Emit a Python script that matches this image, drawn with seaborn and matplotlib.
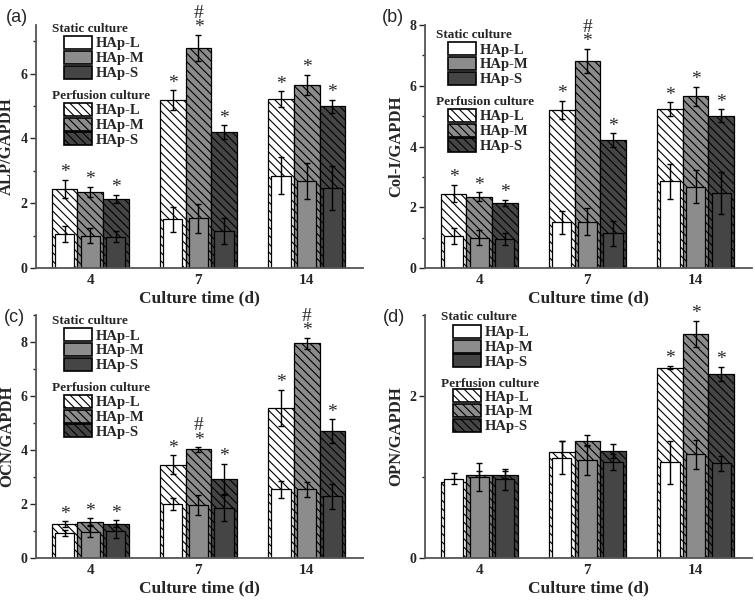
import matplotlib
matplotlib.use('Agg')
import pandas as pd
import matplotlib.pyplot as plt
import seaborn as sns
from matplotlib.patches import Patch
from matplotlib.ticker import MultipleLocator

# categories
days = ['4', '7', '14']
groups = ['HAp-L', 'HAp-M', 'HAp-S']

# ALP/GAPDH (a) and Col-I/GAPDH (b): rows = HAp-L, HAp-M, HAp-S ; cols = day 4, 7, 14
alp_static = [[1.06, 1.50, 2.85], [1.00, 1.53, 2.68], [0.97, 1.14, 2.47]]
alp_static_err = [[0.25, 0.38, 0.58], [0.24, 0.45, 0.55], [0.18, 0.41, 0.69]]
alp_perf = [[2.44, 5.19, 5.22], [2.34, 6.80, 5.65], [2.14, 4.19, 5.00]]
alp_perf_err = [[0.29, 0.30, 0.24], [0.16, 0.40, 0.31], [0.12, 0.22, 0.20]]

col_static = [[1.06, 1.50, 2.85], [1.00, 1.53, 2.68], [0.95, 1.14, 2.47]]
col_static_err = [[0.26, 0.38, 0.58], [0.25, 0.45, 0.55], [0.20, 0.41, 0.69]]
col_perf = [[2.45, 5.20, 5.23], [2.35, 6.82, 5.66], [2.15, 4.21, 5.02]]
col_perf_err = [[0.28, 0.30, 0.23], [0.14, 0.40, 0.31], [0.10, 0.22, 0.20]]

# OCN/GAPDH (c)
ocn_static = [[0.93, 2.01, 2.54], [0.98, 1.98, 2.54], [1.00, 1.86, 2.28]]
ocn_static_err = [[0.10, 0.22, 0.30], [0.22, 0.37, 0.28], [0.25, 0.50, 0.45]]
ocn_perf = [[1.26, 3.45, 5.56], [1.35, 4.02, 7.95], [1.26, 2.91, 4.70]]
ocn_perf_err = [[0.10, 0.35, 0.66], [0.12, 0.08, 0.20], [0.13, 0.58, 0.43]]

# OPN/GAPDH (d)
opn_static = [[0.98, 1.24, 1.18], [1.00, 1.21, 1.28], [0.97, 1.19, 1.17]]
opn_static_err = [[0.07, 0.20, 0.27], [0.17, 0.18, 0.18], [0.13, 0.10, 0.09]]
opn_perf = [[0.94, 1.31, 2.35], [1.03, 1.45, 2.77], [1.03, 1.32, 2.27]]
opn_perf_err = [[0.03, 0.13, 0.02], [0.05, 0.07, 0.16], [0.04, 0.09, 0.09]]

# significance marks: (group index, day index)
all_stars = [(g, d) for g in range(3) for d in range(3)]
opn_stars = [(0, 2), (1, 2), (2, 2)]
alp_hash = [(1, 1)]
ocn_hash = [(1, 1), (1, 2)]

fills = ['white', '#8c8c8c', '#454545']
serif = 'Liberation Serif'

sns.set_style('ticks')
plt.rcParams['font.family'] = [serif, 'DejaVu Serif']
plt.rcParams['font.weight'] = 'bold'
plt.rcParams['axes.labelweight'] = 'bold'
plt.rcParams['hatch.linewidth'] = 0.8
plt.rcParams['hatch.color'] = 'black'


def long_df(vals):
    rows = []
    for gi, g in enumerate(groups):
        for di, d in enumerate(days):
            rows.append({'day': d, 'group': g, 'value': vals[gi][di]})
    return pd.DataFrame(rows)


def panel(ax, static, static_err, perf, perf_err, ylabel, ymax, stars, hashes, leg):
    # perfusion culture: wide hatched bars behind
    sns.barplot(data=long_df(perf), x='day', y='value', hue='group', order=days,
                hue_order=groups, palette=fills, saturation=1, width=0.71,
                edgecolor='black', linewidth=0.9, errorbar=None, legend=False,
                ax=ax, zorder=1)
    perf_bars = list(ax.containers)
    for cont in perf_bars:
        for b in cont:
            b.set_hatch('\\\\\\\\')
    for gi, cont in enumerate(perf_bars):
        xs = [b.get_x() + b.get_width() / 2 for b in cont]
        ax.errorbar(xs, perf[gi], yerr=perf_err[gi], fmt='none', ecolor='black',
                    elinewidth=1, capsize=2.5, capthick=1, zorder=1.5)

    # static culture: narrower solid bars in front
    n0 = len(ax.containers)
    sns.barplot(data=long_df(static), x='day', y='value', hue='group', order=days,
                hue_order=groups, palette=fills, saturation=1, width=0.71, gap=0.25,
                edgecolor='black', linewidth=0.9, errorbar=None, legend=False,
                ax=ax, zorder=2)
    static_bars = list(ax.containers[n0:])
    for gi, cont in enumerate(static_bars):
        xs = [b.get_x() + b.get_width() / 2 for b in cont]
        ax.errorbar(xs, static[gi], yerr=static_err[gi], fmt='none', ecolor='black',
                    elinewidth=1, capsize=2.5, capthick=1, zorder=2.5)

    # significance: '*' vs static, '#' stacked above it
    for gi, di in stars:
        b = perf_bars[gi][di]
        x = b.get_x() + b.get_width() / 2
        top = perf[gi][di] + perf_err[gi][di]
        mark = '#\n*' if (gi, di) in hashes else '*'
        ax.annotate(mark, (x, top), xytext=(0, -1), textcoords='offset points',
                    ha='center', va='bottom', ma='center', linespacing=0.8,
                    fontsize=14, fontweight='normal', annotation_clip=False)

    ax.set_xlim(-0.5, 2.52)
    ax.set_ylim(0, ymax)
    ax.yaxis.set_major_locator(MultipleLocator(2))
    ax.yaxis.set_minor_locator(MultipleLocator(1))
    ax.tick_params(axis='x', length=0, labelsize=11, pad=4)
    ax.tick_params(axis='y', which='major', length=4, width=1, labelsize=10, pad=2)
    ax.tick_params(axis='y', which='minor', length=2.5, width=1)
    ax.set_xlabel('Culture time (d)', fontsize=12.5, labelpad=3)
    ax.set_ylabel(ylabel, fontsize=12, labelpad=4)
    sns.despine(ax=ax)
    for s in ['left', 'bottom']:
        ax.spines[s].set_color('#555555')
        ax.spines[s].set_linewidth(1.3)

    # two stacked legends
    prop = {'family': serif, 'weight': 'bold', 'size': 10.5}
    tx, ty1, hx, hy1, ty2, hy2 = leg
    ax.text(tx, ty1, 'Static culture', transform=ax.transAxes, ha='left', va='center',
            fontsize=9.5)
    h1 = [Patch(facecolor=c, edgecolor='black', linewidth=1.2) for c in fills]
    l1 = ax.legend(h1, groups, loc='upper left', bbox_to_anchor=(hx, hy1), frameon=False,
                   handlelength=1.9, handleheight=1.0, labelspacing=0.02,
                   handletextpad=0.3, borderpad=0, borderaxespad=0, prop=prop)
    ax.add_artist(l1)
    ax.text(tx, ty2, 'Perfusion culture', transform=ax.transAxes, ha='left', va='center',
            fontsize=9.5)
    h2 = [Patch(facecolor=c, edgecolor='black', linewidth=1.2, hatch='\\\\\\\\') for c in fills]
    ax.legend(h2, groups, loc='upper left', bbox_to_anchor=(hx, hy2), frameon=False,
              handlelength=1.9, handleheight=1.0, labelspacing=0.02,
              handletextpad=0.3, borderpad=0, borderaxespad=0, prop=prop)


fig = plt.figure(figsize=(7.55, 6.0), dpi=100)
ax_a = fig.add_axes([0.0477, 0.5533, 0.4331, 0.405])
ax_b = fig.add_axes([0.5629, 0.5533, 0.4331, 0.405])
ax_c = fig.add_axes([0.0477, 0.0700, 0.4331, 0.405])
ax_d = fig.add_axes([0.5629, 0.0700, 0.4331, 0.405])

panel(ax_a, alp_static, alp_static_err, alp_perf, alp_perf_err, 'ALP/GAPDH', 7.5,
      all_stars, alp_hash, (0.049, 0.984, 0.086, 0.955, 0.708, 0.680))
panel(ax_b, col_static, col_static_err, col_perf, col_perf_err, 'Col-I/GAPDH', 8,
      all_stars, alp_hash, (0.034, 0.959, 0.070, 0.930, 0.684, 0.655))
panel(ax_c, ocn_static, ocn_static_err, ocn_perf, ocn_perf_err, 'OCN/GAPDH', 9,
      all_stars, ocn_hash, (0.049, 0.975, 0.086, 0.946, 0.700, 0.672))
panel(ax_d, opn_static, opn_static_err, opn_perf, opn_perf_err, 'OPN/GAPDH', 3,
      opn_stars, [], (0.049, 0.992, 0.086, 0.960, 0.716, 0.695))

for letter, x, y in [('(a)', 6, 17), ('(b)', 382, 17), ('(c)', 4, 317), ('(d)', 383, 318)]:
    fig.text(x / 755, 1 - y / 600, letter, ha='left', va='center', fontsize=13,
             family='Liberation Sans', fontweight='normal')

fig.savefig('out.png', dpi=100)
